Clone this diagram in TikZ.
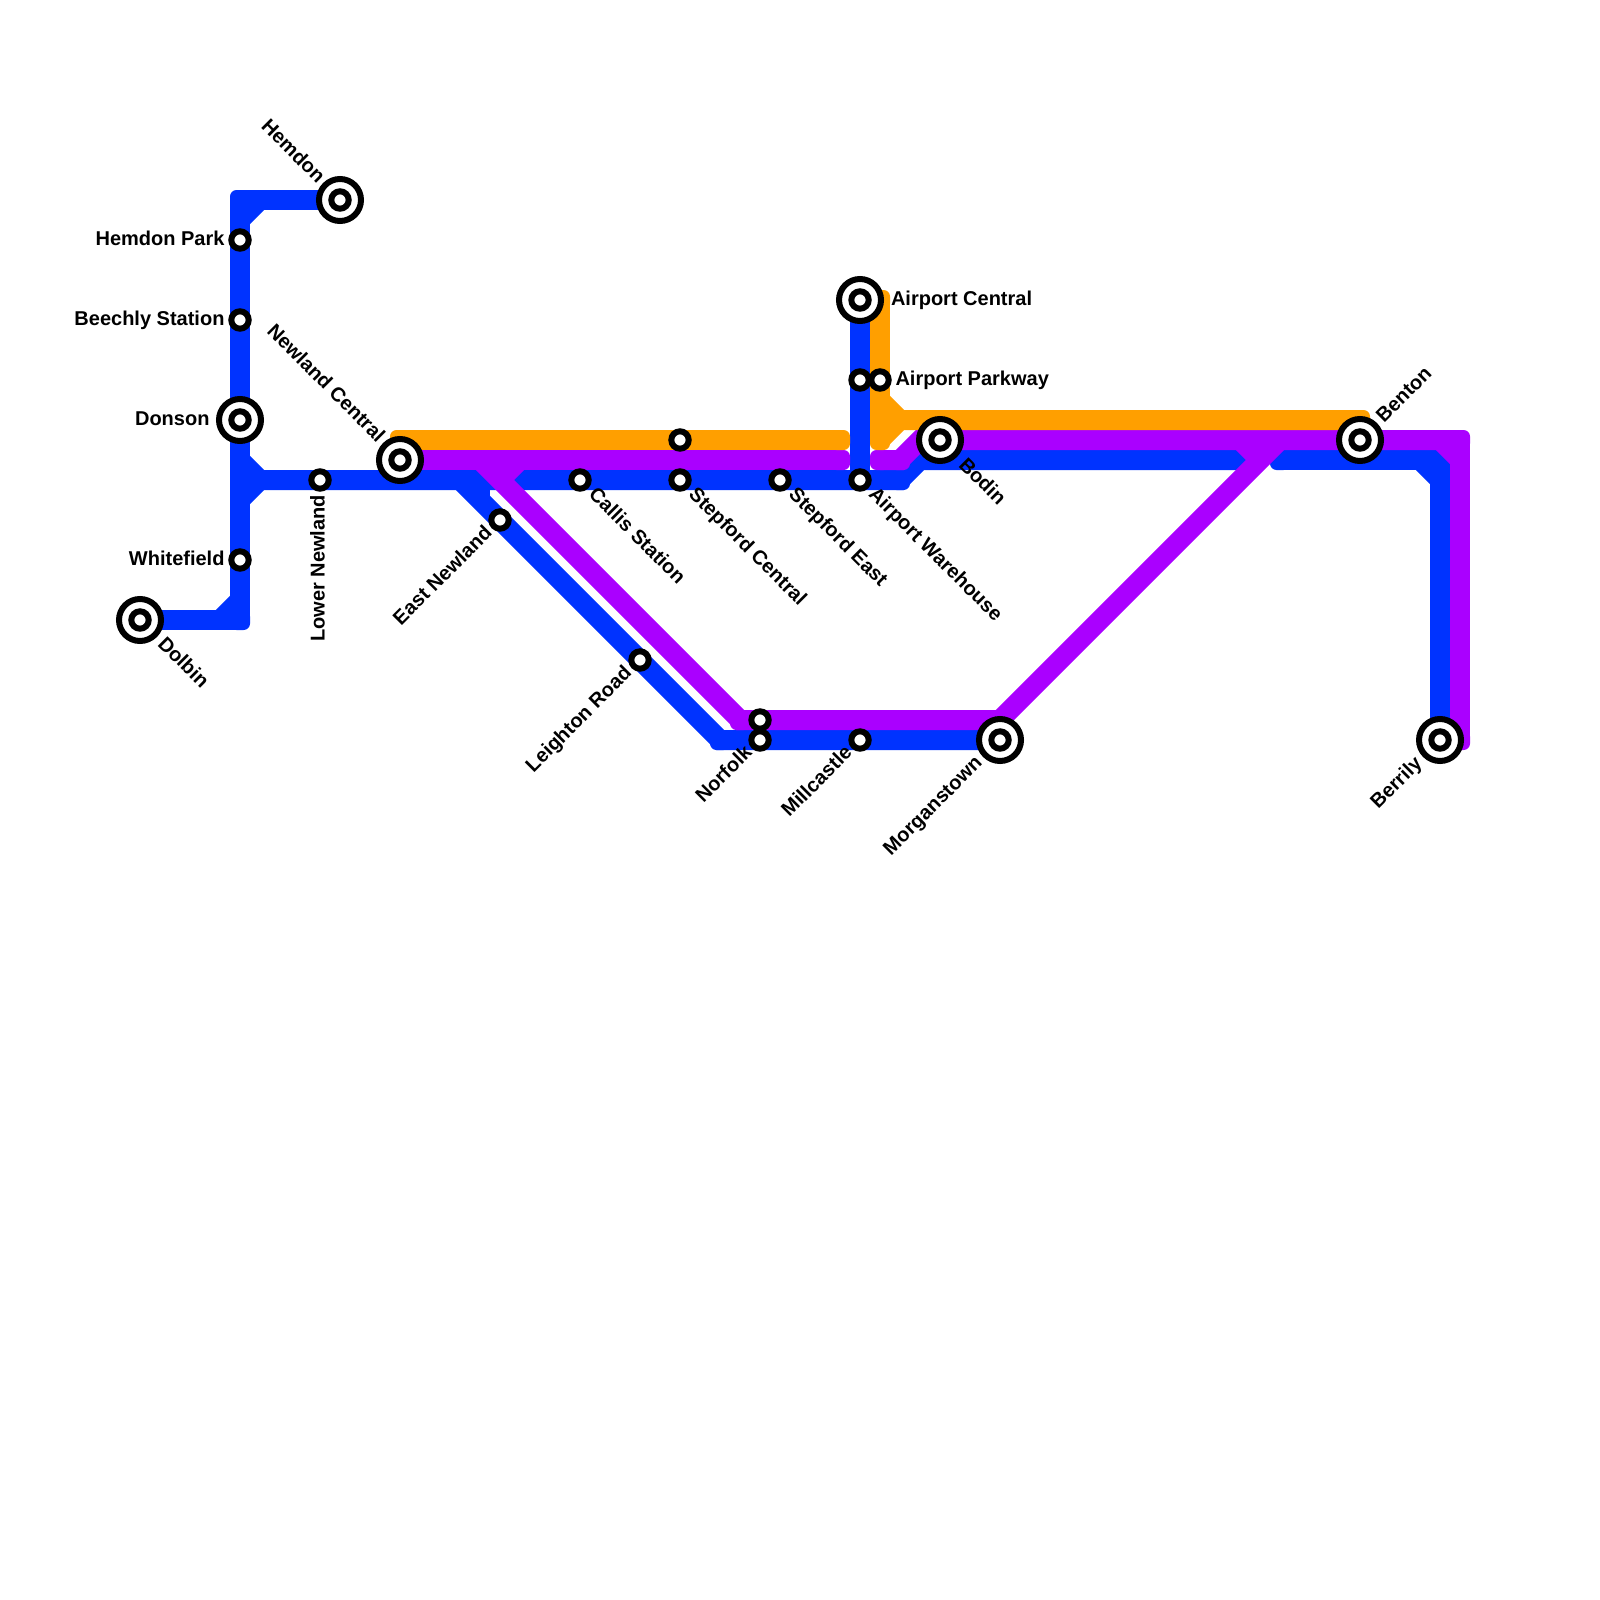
\documentclass[tikz,border=0pt]{standalone}
\usepackage{fontspec}
\setmainfont{Liberation Sans}
\definecolor{lblue}{HTML}{0033FF}
\definecolor{lpurple}{HTML}{AA00FF}
\definecolor{lorange}{HTML}{FF9F00}
\pgfdeclarelayer{lines}
\pgfsetlayers{lines,main}
\tikzset{
  routeline/.style={line width=20pt,line cap=butt,line join=miter},
  bigst/.style={circle,draw=black,fill=white,line width=6pt,minimum size=42pt,inner sep=0pt,outer sep=0pt},
  smallst/.style={circle,draw=black,fill=white,line width=6pt,minimum size=17.4pt,inner sep=0pt,outer sep=0pt},
  lab/.style={inner sep=0pt,outer sep=0pt,text height=14.4pt,text depth=0pt,font=\bfseries\fontsize{20}{24}\selectfont,text=black},
}
\newcommand{\tilecap}[2]{\fill[#1,rounded corners=6.5pt,shift={(#2)}] (-10,-10) rectangle (10,10);}
\begin{document}
\begin{tikzpicture}[x=1pt,y=-1pt]
\useasboundingbox (0,0) rectangle (1600,1600);
% stations
\node[bigst] (hemdon) at (340,200) {};\node[smallst] (hemdonI) at (hemdon) {};
\node[smallst] (hemdonpark) at (240,240) {};
\node[smallst] (beechly) at (240,320) {};
\node[bigst] (donson) at (240,420) {};\node[smallst] (donsonI) at (donson) {};
\node[smallst] (lowernewland) at (320,480) {};
\node[smallst] (whitefield) at (240,560) {};
\node[bigst] (dolbin) at (140,620) {};\node[smallst] (dolbinI) at (dolbin) {};
\node[bigst] (newlandcentral) at (400,460) {};\node[smallst] (newlandcentralI) at (newlandcentral) {};
\node[smallst] (eastnewland) at (500,520) {};
\node[smallst] (callis) at (580,480) {};
\node[smallst] (stepfordcentral) at (680,480) {};
\node[smallst] (stepfordtop) at (680,440) {};
\node[smallst] (stepfordeast) at (780,480) {};
\node[smallst] (airportwarehouse) at (860,480) {};
\node[bigst] (airportcentral) at (860,300) {};\node[smallst] (airportcentralI) at (airportcentral) {};
\node[smallst] (parkwayb) at (860,380) {};
\node[smallst] (parkwayo) at (880,380) {};
\node[bigst] (bodin) at (940,440) {};\node[smallst] (bodinI) at (bodin) {};
\node[smallst] (leighton) at (640,660) {};
\node[smallst] (norfolkp) at (760,720) {};
\node[smallst] (norfolkb) at (760,740) {};
\node[smallst] (millcastle) at (860,740) {};
\node[bigst] (morganstown) at (1000,740) {};\node[smallst] (morganstownI) at (morganstown) {};
\node[bigst] (benton) at (1360,440) {};\node[smallst] (bentonI) at (benton) {};
\node[bigst] (berrily) at (1440,740) {};\node[smallst] (berrilyI) at (berrily) {};
% labels
\node[lab,anchor=east] (tHemdonPark) at (224.5,238) {Hemdon Park};
\node[lab,anchor=east] (tBeechly) at (224.5,318) {Beechly Station};
\node[lab,anchor=east] (tDonson) at (209.5,418) {Donson};
\node[lab,anchor=east] (tWhitefield) at (224.5,558) {Whitefield};
\node[lab,anchor=west] (tAC) at (891,298) {Airport Central};
\node[lab,anchor=west] (tAP) at (895.5,378) {Airport Parkway};
\node[lab,anchor=east,rotate=-45] (tHemdon) at (322,179) {Hemdon};
\node[lab,anchor=east,rotate=-45] (tNC) at (382,438) {Newland Central};
\node[lab,anchor=east,rotate=90] (tLN) at (317.5,495) {Lower Newland};
\node[lab,anchor=east,rotate=45] (tEN) at (488,529) {East Newland};
\node[lab,anchor=west,rotate=-45] (tCS) at (593,490.5) {Callis Station};
\node[lab,anchor=west,rotate=-45] (tSC) at (693,490.5) {Stepford Central};
\node[lab,anchor=west,rotate=-45] (tSE) at (793,490.5) {Stepford East};
\node[lab,anchor=west,rotate=-45] (tAW) at (873,490.5) {Airport Warehouse};
\node[lab,anchor=west,rotate=-45] (tBo) at (963,461) {Bodin};
\node[lab,anchor=east,rotate=45] (tLR) at (627.5,669) {Leighton Road};
\node[lab,anchor=east,rotate=45] (tNo) at (748,749) {Norfolk};
\node[lab,anchor=east,rotate=45] (tMi) at (848,749) {Millcastle};
\node[lab,anchor=east,rotate=45] (tMo) at (978,759) {Morganstown};
\node[lab,anchor=west,rotate=45] (tBe) at (1379,418.5) {Benton};
\node[lab,anchor=east,rotate=45] (tBr) at (1418,760) {Berrily};
\node[lab,anchor=west,rotate=-45] (tDo) at (162,640) {Dolbin};
% junction coordinates
\foreach \n/\x/\y in {
 bA/240/200,bB/240/220,bC/260/200,bD/240/620,bE/240/600,bF/220/620,
 bG/240/480,bH/240/460,bI/260/480,bJ/240/500,bK/460/480,bL/720/740,bM/480/480,bN/480/500,
 bO/900/480,bP/920/460,bQ/1250/460,bR/1280/460,bS/1440/460,bT/1420/460,bU/1440/480,
 pA/840/460,pB/480/460,pC/740/720,pD/1000/720,pE/1280/440,pF/500/480,pG/520/460,
 pH/880/460,pI/900/460,pJ/920/440,pK/1240/440,pL/1260/460,pM/1460/440,pN/1460/740,pO/1460/460,pP/1440/440,
 oA/400/440,oB/840/440,oC/880/300,oD/880/440,oE/880/400,oF/900/420,oG/1360/420}
 {\coordinate (\n) at (\x,\y);}
\begin{pgfonlayer}{lines}
\fill[white] (0,0) rectangle (1600,1600);
% blue
\draw[routeline,lblue] (hemdon.center) -- (bA);
\draw[routeline,lblue] (bA) -- (bD);
\draw[routeline,lblue] (bD) -- (dolbin.center);
\draw[routeline,lblue] (bB) -- (bC);
\draw[routeline,lblue] (bE) -- (bF);
\draw[routeline,lblue] (bH) -- (bI);
\draw[routeline,lblue] (bI) -- (bJ);
\draw[routeline,lblue] (bG) -- (bO) -- (bP) -- (bQ);
\draw[routeline,lblue] (bM) -- (bN);
\draw[routeline,lblue] (bK) -- (bL) -- (morganstown.center);
\draw[routeline,lblue] (airportcentral.center) -- (airportwarehouse.center);
\draw[routeline,lblue] (bR) -- (bS);
\draw[routeline,lblue] (bS) -- (berrily.center);
\draw[routeline,lblue] (bT) -- (bU);
\tilecap{lblue}{bA}\tilecap{lblue}{bD}\tilecap{lblue}{bL}\tilecap{lblue}{bO}\tilecap{lblue}{bR}\tilecap{lblue}{bS}
% purple
\draw[routeline,lpurple] (newlandcentral.center) -- (pA);
\draw[routeline,lpurple] (pB) -- (pC) -- (pD) -- (pE);
\draw[routeline,lpurple] (pF) -- (pG);
\draw[routeline,lpurple] (pH) -- (pI) -- (pJ) -- (pM);
\draw[routeline,lpurple] (pM) -- (pN);
\draw[routeline,lpurple] (pK) -- (pL);
\draw[routeline,lpurple] (pP) -- (pO);
\tilecap{lpurple}{pA}\tilecap{lpurple}{pH}\tilecap{lpurple}{pI}\tilecap{lpurple}{pC}\tilecap{lpurple}{pM}\tilecap{lpurple}{pN}
% orange
\draw[routeline,lorange] (oA) -- (oB);
\draw[routeline,lorange] (oC) -- (oD);
\draw[routeline,lorange] (oD) -- (oF) -- (oG);
\draw[routeline,lorange] (oE) -- (oF);
\tilecap{lorange}{oA}\tilecap{lorange}{oB}\tilecap{lorange}{oC}\tilecap{lorange}{oD}\tilecap{lorange}{oG}
\end{pgfonlayer}
\end{tikzpicture}
\end{document}
